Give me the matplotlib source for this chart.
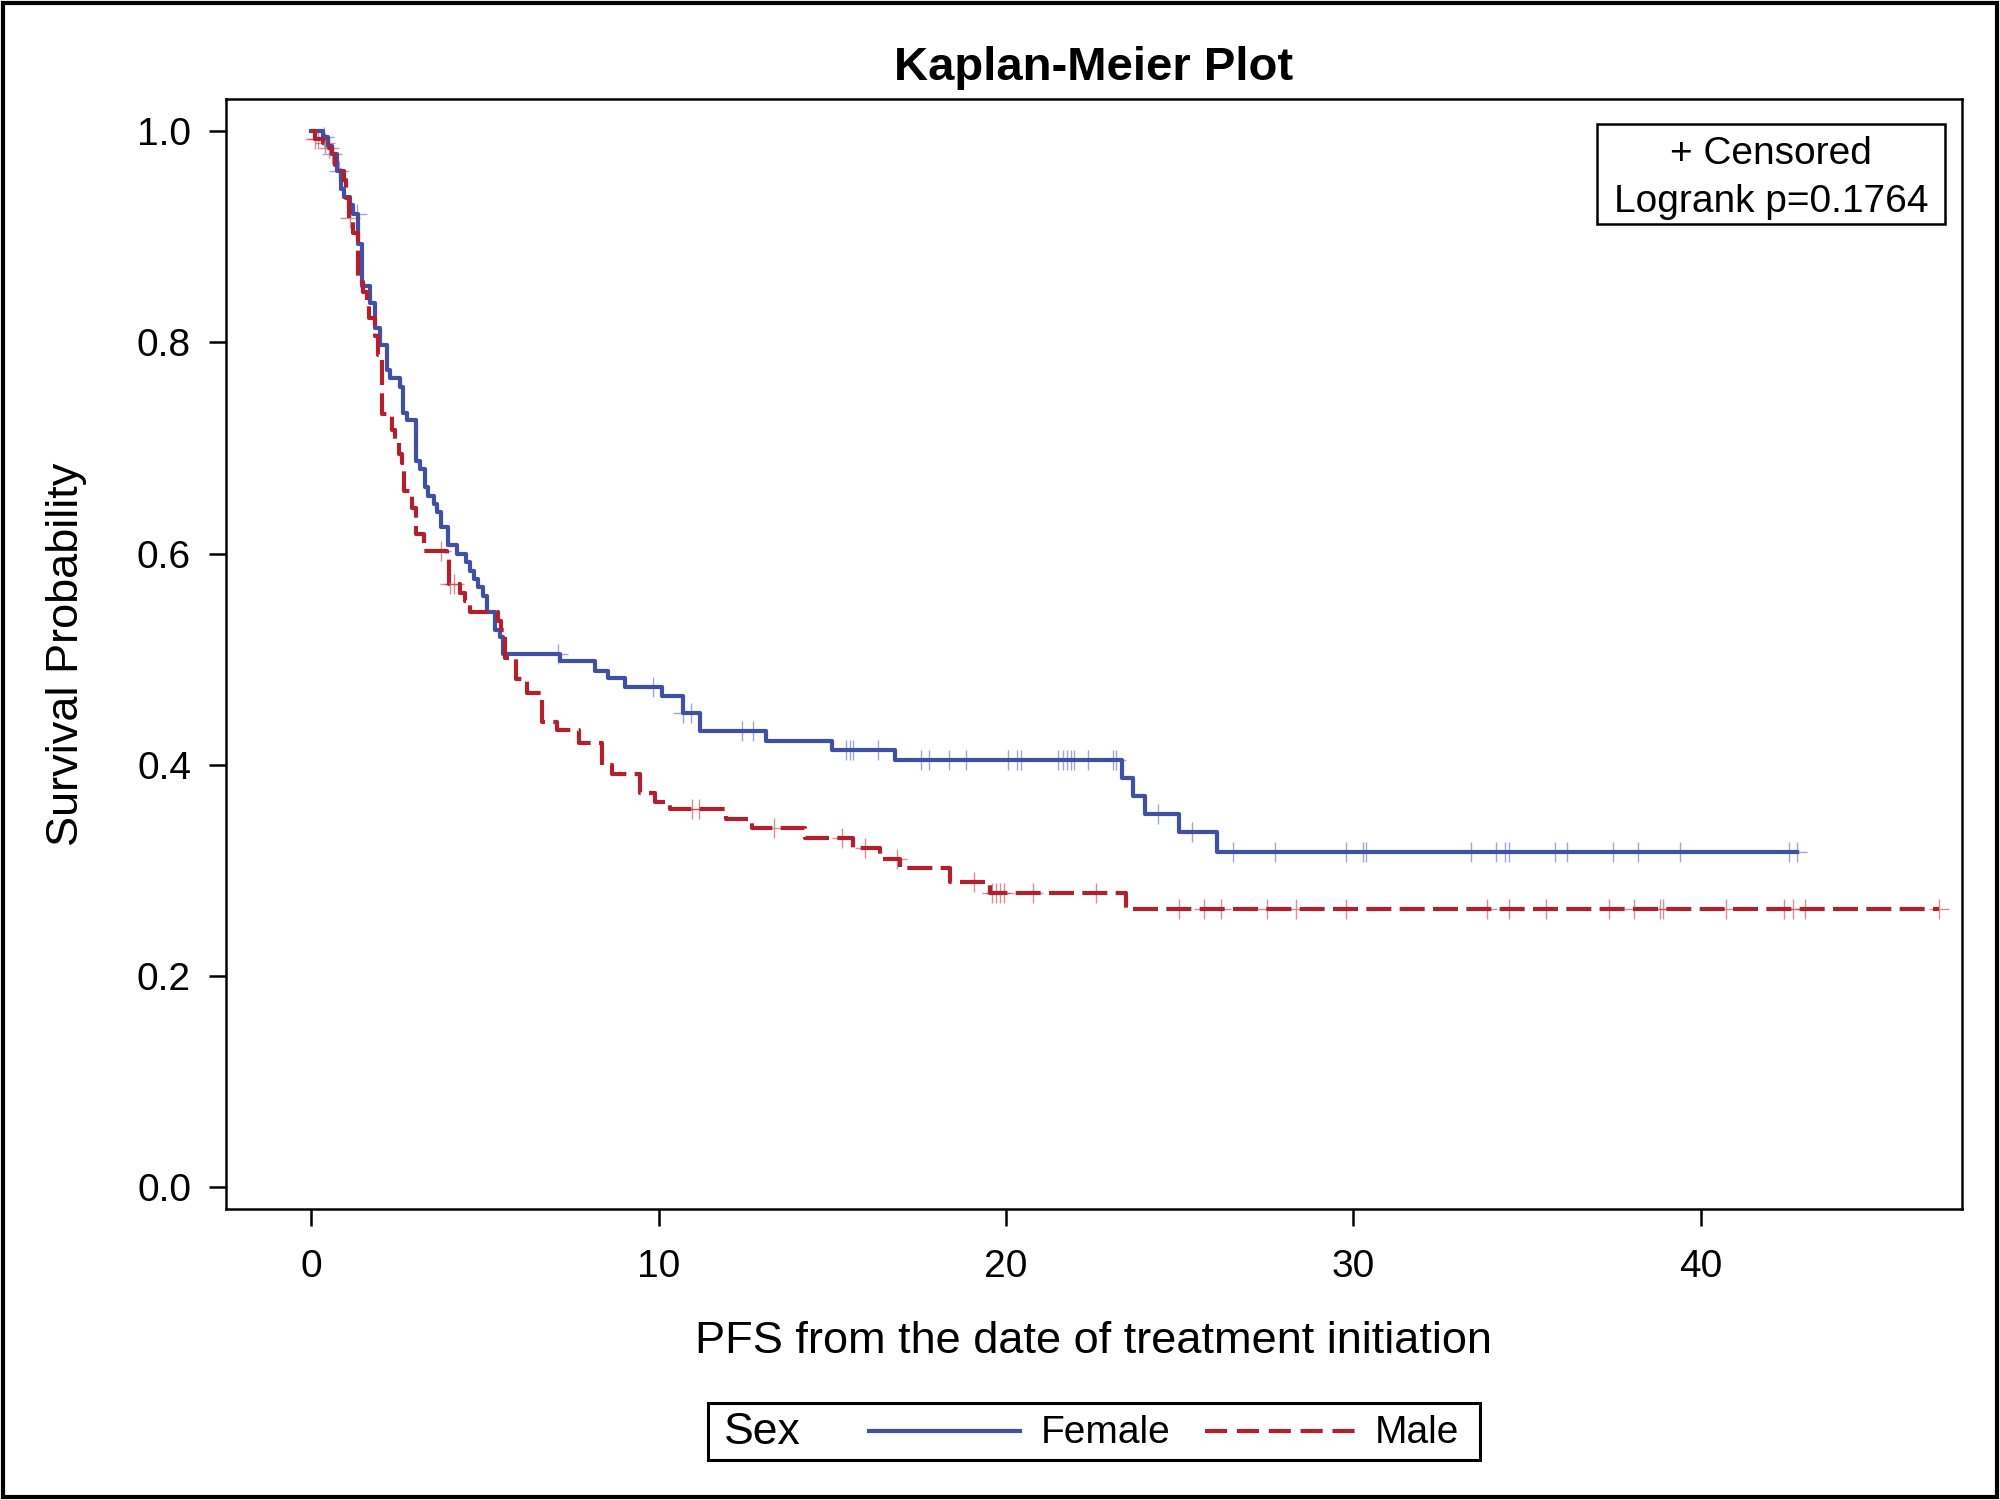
import matplotlib
matplotlib.use("Agg")
import matplotlib.pyplot as plt
from matplotlib.patches import Rectangle
from matplotlib.lines import Line2D
import numpy as np

plt.rcParams['font.family'] = ['Liberation Sans', 'DejaVu Sans']

# Female: step times and survival after each drop
female_time = [0, 0.35, 0.49, 0.6, 0.73, 0.85, 0.93, 1.12, 1.21, 1.36, 1.45, 1.69, 1.84, 1.98,
               2.17, 2.27, 2.56, 2.65, 2.75, 3.01, 3.13, 3.28, 3.37, 3.52, 3.61, 3.73, 3.95,
               4.19, 4.46, 4.57, 4.69, 4.81, 4.94, 5.05, 5.29, 5.44, 5.53, 7.16, 8.17, 8.53,
               9.02, 10.09, 10.69, 11.19, 13.09, 15.0, 16.81, 23.34, 23.67, 24.01, 24.99, 26.07]
female_surv = [1.0, 0.994, 0.986, 0.978, 0.962, 0.945, 0.938, 0.930, 0.922, 0.893, 0.853, 0.837, 0.814, 0.798,
               0.774, 0.766, 0.758, 0.733, 0.727, 0.688, 0.680, 0.663, 0.655, 0.647, 0.639, 0.625, 0.608,
               0.600, 0.592, 0.584, 0.576, 0.568, 0.560, 0.545, 0.528, 0.521, 0.505, 0.498, 0.489, 0.482,
               0.474, 0.465, 0.449, 0.432, 0.423, 0.414, 0.405, 0.388, 0.371, 0.354, 0.337, 0.318]
female_last = 42.77
female_cens = [0.37, 0.6, 0.79, 1.31, 7.09, 9.85, 10.69, 10.93, 12.39, 12.73, 15.39, 15.52, 15.61,
               16.33, 17.55, 17.79, 18.37, 18.86, 20.05, 20.31, 20.42, 21.51, 21.63, 21.75, 21.86,
               21.97, 22.35, 23.07, 23.18, 24.39, 25.35, 26.55, 27.75, 29.8, 30.27, 30.38, 33.4,
               34.11, 34.37, 34.48, 35.8, 36.16, 37.48, 38.2, 39.41, 42.54, 42.77]

# Male
male_time = [0, 0.11, 0.35, 0.45, 0.59, 0.68, 0.83, 0.93, 1.0, 1.1, 1.21, 1.36, 1.45, 1.5, 1.6,
             1.65, 1.84, 1.93, 2.05, 2.32, 2.41, 2.54, 2.6, 2.66, 2.89, 3.02, 3.26, 3.9, 3.97,
             4.27, 4.43, 4.56, 5.39, 5.45, 5.58, 5.9, 6.21, 6.64, 7.07, 7.7, 8.37, 8.66, 9.47,
             9.9, 10.33, 11.94, 12.7, 14.22, 15.6, 16.38, 16.95, 18.39, 19.54, 23.45]
male_surv = [1.0, 0.993, 0.989, 0.984, 0.978, 0.968, 0.962, 0.954, 0.937, 0.918, 0.904, 0.863, 0.857, 0.848, 0.839,
             0.823, 0.806, 0.788, 0.732, 0.717, 0.708, 0.694, 0.686, 0.659, 0.643, 0.619, 0.603, 0.598, 0.571,
             0.563, 0.555, 0.545, 0.536, 0.528, 0.501, 0.481, 0.468, 0.441, 0.433, 0.421, 0.400, 0.391, 0.373,
             0.365, 0.358, 0.349, 0.340, 0.331, 0.321, 0.311, 0.302, 0.289, 0.279, 0.264]
male_last = 46.85
male_cens = [0.11, 0.2, 0.4, 0.51, 1.12, 3.74, 3.99, 4.1, 10.96, 11.17, 13.33, 15.27, 15.95, 16.85,
             19.09, 19.59, 19.71, 19.82, 19.95, 20.79, 22.59, 24.99, 25.71, 26.19, 27.51, 28.34,
             29.8, 33.86, 34.48, 35.56, 37.36, 38.08, 38.83, 38.92, 40.74, 42.41, 42.66, 43.01, 46.85]

blue = '#4050a5'
red = '#b21f2d'
male_dash = (0, (6, 2))


def km_curve(ax, times, surv, last, cens, color, ls):
    t = np.array(times + [last])
    s = np.array(surv + [surv[-1]])
    ax.step(t, s, where='post', color=color, lw=3, linestyle=ls, zorder=3)
    c = np.array(cens)
    idx = np.searchsorted(np.array(times), c, side='right') - 1
    ax.plot(c, np.array(surv)[idx], linestyle='none', marker='+', markersize=15,
            markeredgewidth=1.0, color=color, alpha=0.5, zorder=4)


fig = plt.figure(figsize=(20, 15), dpi=100)
ax = fig.add_axes([0.1129, 0.1939, 0.868, 0.7398])

km_curve(ax, female_time, female_surv, female_last, female_cens, blue, '-')
km_curve(ax, male_time, male_surv, male_last, male_cens, red, male_dash)

ax.set_xlim(-2.46, 47.52)
ax.set_ylim(-0.0205, 1.030)
ax.set_xticks([0, 10, 20, 30, 40])
ax.set_yticks([0.0, 0.2, 0.4, 0.6, 0.8, 1.0])
ax.set_yticklabels(['0.0', '0.2', '0.4', '0.6', '0.8', '1.0'])
ax.tick_params(length=12, width=1.8, labelsize=28)
ax.tick_params(axis='x', pad=17)
ax.tick_params(axis='y', pad=13)
for sp in ax.spines.values():
    sp.set_linewidth(1.8)

ax.set_xlabel('PFS from the date of treatment initiation', fontsize=32.5, va='center')
ax.set_ylabel('Survival Probability', fontsize=32.5, va='center')
ax.xaxis.set_label_coords(0.5, -0.1195)
ax.yaxis.set_label_coords(-0.0919, 0.5)
fig.text(0.547, 0.955, 'Kaplan-Meier Plot', fontsize=34, fontweight='bold', ha='center', va='center')

# inset box
ax.add_patch(Rectangle((0.790, 0.8874), 0.2004, 0.0906, transform=ax.transAxes,
                       fill=False, ec='black', lw=1.8, zorder=5))
ax.text(0.8902, 0.9505, '+ Censored', transform=ax.transAxes, fontsize=28, ha='center', va='center')
ax.text(0.8902, 0.908, 'Logrank p=0.1764', transform=ax.transAxes, fontsize=28, ha='center', va='center')

# bottom legend
fig.add_artist(Rectangle((0.354, 0.0267), 0.386, 0.038, transform=fig.transFigure,
                         fill=False, ec='black', lw=2.2))
ly = 0.0447
fig.text(0.362, ly, 'Sex', fontsize=32, va='center')
fig.add_artist(Line2D([0.4343, 0.5102], [ly + 0.001, ly + 0.001], transform=fig.transFigure,
                      color=blue, lw=3))
fig.text(0.5204, ly, 'Female', fontsize=28, va='center')
fig.add_artist(Line2D([0.6027, 0.6773], [ly + 0.001, ly + 0.001], transform=fig.transFigure,
                      color=red, lw=3, linestyle=(0, (5.3, 2.35))))
fig.text(0.6875, ly, 'Male', fontsize=28, va='center')

# outer frame
fig.add_artist(Rectangle((0.0015, 0.002), 0.997, 0.996, transform=fig.transFigure,
                         fill=False, ec='black', lw=3))

fig.savefig('out.png', dpi=100)
